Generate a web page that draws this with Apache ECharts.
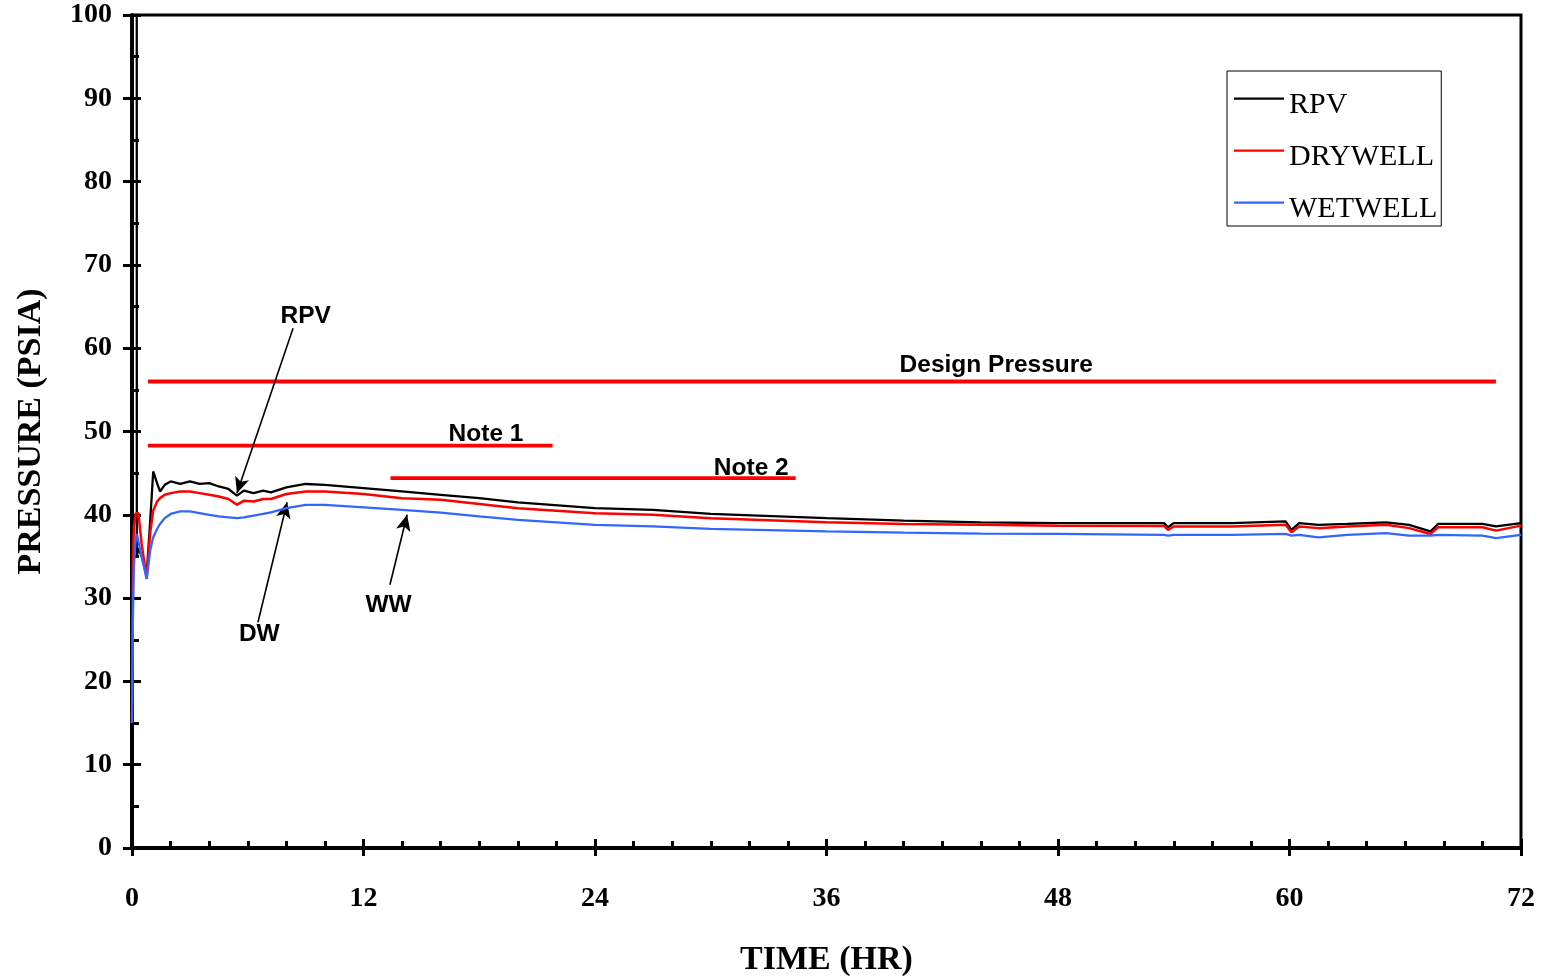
<!DOCTYPE html>
<html>
<head>
<meta charset="utf-8">
<script src="https://cdn.jsdelivr.net/npm/echarts@6/dist/echarts.min.js"></script>
<style>
html,body{margin:0;padding:0;background:#fff;}
#chart{width:1543px;height:976px;}
</style>
</head>
<body>
<div id="chart"></div>
<script>
// ---- data ----
var time = [0, 0.05, 0.1, 0.2, 0.25, 0.33, 0.5, 0.76, 0.95, 1.1, 1.3, 1.45, 1.7, 2, 2.5, 3, 3.5, 4, 4.5, 5, 5.44, 5.8, 6.3, 6.8, 7.2, 8, 9, 10, 12, 14, 16, 18, 20, 24, 27, 30, 36, 40, 44, 48, 53.5, 53.7, 54, 57, 59.8, 60.1, 60.5, 61.5, 63, 65, 66.2, 67.3, 67.7, 70, 70.7, 72];
var rpv = [1000, 1000, 1000, 1000, 35, 36, 35, 32.8, 39.5, 45.2, 43.8, 42.8, 43.6, 44.0, 43.7, 44.0, 43.7, 43.8, 43.4, 43.1, 42.3, 42.9, 42.6, 42.9, 42.7, 43.3, 43.7, 43.6, 43.2, 42.8, 42.4, 42.0, 41.5, 40.8, 40.6, 40.1, 39.6, 39.3, 39.1, 39.0, 39.0, 38.5, 39.0, 39.0, 39.2, 38.2, 39.0, 38.8, 38.9, 39.1, 38.8, 38.0, 38.9, 38.9, 38.6, 39.0];
var drywell = [15, 35, 38.5, 40.2, 40.4, 40.2, 36.5, 32.3, 38.0, 40.5, 41.6, 42.0, 42.4, 42.6, 42.8, 42.8, 42.6, 42.4, 42.2, 41.9, 41.2, 41.7, 41.6, 41.9, 41.9, 42.5, 42.8, 42.8, 42.5, 42.0, 41.8, 41.3, 40.8, 40.2, 40.0, 39.6, 39.1, 38.9, 38.8, 38.7, 38.65, 38.2, 38.6, 38.6, 38.8, 37.9, 38.6, 38.4, 38.6, 38.8, 38.4, 37.7, 38.5, 38.5, 38.1, 38.7];
var wetwell = [15, 28, 34, 37.2, 37.7, 37.7, 35, 32.3, 35.8, 37.3, 38.3, 38.9, 39.6, 40.1, 40.4, 40.4, 40.2, 40.0, 39.8, 39.7, 39.6, 39.7, 39.9, 40.1, 40.3, 40.8, 41.2, 41.2, 40.9, 40.6, 40.25, 39.8, 39.4, 38.8, 38.6, 38.3, 38.0, 37.85, 37.75, 37.7, 37.6, 37.5, 37.6, 37.6, 37.7, 37.5, 37.6, 37.3, 37.6, 37.8, 37.5, 37.5, 37.6, 37.5, 37.2, 37.6];

var seriesNames = ['RPV', 'DRYWELL', 'WETWELL'];

// reference lines: label, value (psia), start (hr), end (hr)
var refLabels = ['Design Pressure', 'Note 1', 'Note 2'];
var refValues = [56, 48.3, 44.4];
var refStarts = [0.83, 0.83, 13.4];
var refEnds = [70.7, 21.8, 34.4];
var refLabelPos = [[44.8, 58.0], [18.35, 49.65], [32.1, 45.55]];

// arrow annotations: label, label point, arrow start, arrow end
var arrowLabels = ['RPV', 'DW', 'WW'];
var arrowLabelPos = [[9.0, 63.8], [6.6, 25.65], [13.3, 29.15]];
var arrowFrom = [[8.35, 62.4], [6.53, 27.1], [13.37, 31.6]];
var arrowTo = [[5.44, 42.6], [8.04, 41.5], [14.26, 40.0]];

var xTicks = {min: 0, max: 72, interval: 12};
var yTicks = {min: 0, max: 100, interval: 10};

// ---- build ----
function pairs(xs, ys) { return xs.map(function (x, i) { return [x, ys[i]]; }); }

var serif = 'Liberation Serif';
var sans = 'Liberation Sans';

var markPoints = [];
refLabels.forEach(function (t, i) {
  markPoints.push({coord: refLabelPos[i], label: {formatter: t}});
});
arrowLabels.forEach(function (t, i) {
  markPoints.push({coord: arrowLabelPos[i], label: {formatter: t}});
});
var arrowLines = arrowFrom.map(function (f, i) {
  return [{coord: f}, {coord: arrowTo[i]}];
});

var series = [
  {name: 'RPV', type: 'line', data: pairs(time, rpv), showSymbol: false, symbol: 'none', clip: true,
   lineStyle: {color: '#000000', width: 2.3}, itemStyle: {color: '#000000'}, z: 3},
  {name: 'DRYWELL', type: 'line', data: pairs(time, drywell), showSymbol: false, symbol: 'none', clip: true,
   lineStyle: {color: '#ff0000', width: 2.5}, itemStyle: {color: '#ff0000'}, z: 4},
  {name: 'WETWELL', type: 'line', data: pairs(time, wetwell), showSymbol: false, symbol: 'none', clip: true,
   lineStyle: {color: '#3366ff', width: 2.3}, itemStyle: {color: '#3366ff'}, z: 5}
];

refLabels.forEach(function (t, i) {
  var s = {
    name: t, type: 'line', data: [[refStarts[i], refValues[i]], [refEnds[i], refValues[i]]],
    showSymbol: false, symbol: 'none', lineStyle: {color: '#ff0000', width: 3.8}, z: 2, silent: true
  };
  if (i === 0) {
    s.markPoint = {
      symbol: 'rect', symbolSize: 1, silent: true,
      itemStyle: {color: 'rgba(0,0,0,0)'},
      label: {show: true, position: 'inside', color: '#000', fontFamily: sans, fontWeight: 'bold', fontSize: 24.5},
      data: markPoints
    };
    s.markLine = {
      silent: true, symbol: ['none', 'arrow'], symbolSize: [11, 16],
      lineStyle: {color: '#000', width: 1.6, type: 'solid'},
      itemStyle: {color: '#000'},
      label: {show: false},
      data: arrowLines
    };
  }
  series.push(s);
});

var chart = echarts.init(document.getElementById('chart'), null, {renderer: 'canvas'});
chart.setOption({
  animation: false,
  backgroundColor: '#ffffff',
  grid: {left: 132, right: 22, top: 15, bottom: 128, outerBoundsMode: 'none', containLabel: false,
         show: true, borderColor: '#000', borderWidth: 3, backgroundColor: 'transparent'},
  legend: {
    data: seriesNames, orient: 'vertical', left: 1227, top: 71,
    backgroundColor: '#fff', borderColor: '#000', borderWidth: 1,
    padding: [19, 4, 1, 7], itemGap: 21, itemWidth: 50, itemHeight: 16,
    icon: 'path://M0,0L50,0L50,2.2L0,2.2Z M0,16L50,16',
    itemStyle: {borderWidth: 0},
    textStyle: {fontFamily: serif, fontSize: 30, color: '#000', lineHeight: 31}
  },
  xAxis: [
    {type: 'value', min: xTicks.min, max: xTicks.max, interval: xTicks.interval, position: 'bottom',
     name: 'TIME (HR)', nameLocation: 'middle', nameGap: 95,
     nameTextStyle: {fontFamily: serif, fontWeight: 'bold', fontSize: 34, color: '#000'},
     axisLine: {show: true, lineStyle: {color: '#000', width: 4}},
     axisTick: {show: true, inside: false, length: 8, lineStyle: {color: '#000', width: 3}},
     axisLabel: {margin: 37, fontFamily: serif, fontWeight: 'bold', fontSize: 28, color: '#000'},
     splitLine: {show: false}},
    {type: 'value', min: xTicks.min, max: xTicks.max, interval: xTicks.interval, position: 'bottom',
     axisLine: {show: false}, axisLabel: {show: false}, splitLine: {show: false},
     axisTick: {show: true, inside: true, length: 9, lineStyle: {color: '#000', width: 3}},
     minorTick: {show: true, splitNumber: 6, length: 7, lineStyle: {color: '#000', width: 3}}}
  ],
  yAxis: [
    {type: 'value', min: yTicks.min, max: yTicks.max, interval: yTicks.interval, position: 'left',
     name: 'PRESSURE (PSIA)', nameLocation: 'middle', nameGap: 84, nameRotate: 90,
     nameTextStyle: {fontFamily: serif, fontWeight: 'bold', fontSize: 34, color: '#000'},
     axisLine: {show: true, lineStyle: {color: '#000', width: 4}},
     axisTick: {show: true, inside: false, length: 9, lineStyle: {color: '#000', width: 3}},
     axisLabel: {margin: 20, fontFamily: serif, fontWeight: 'bold', fontSize: 28, color: '#000'},
     splitLine: {show: false}},
    {type: 'value', min: yTicks.min, max: yTicks.max, interval: yTicks.interval, position: 'left',
     axisLine: {show: false}, axisLabel: {show: false}, splitLine: {show: false},
     axisTick: {show: true, inside: true, length: 9, lineStyle: {color: '#000', width: 3}},
     minorTick: {show: true, splitNumber: 2, length: 7, lineStyle: {color: '#000', width: 3}}}
  ],
  series: series
});
</script>
</body>
</html>
